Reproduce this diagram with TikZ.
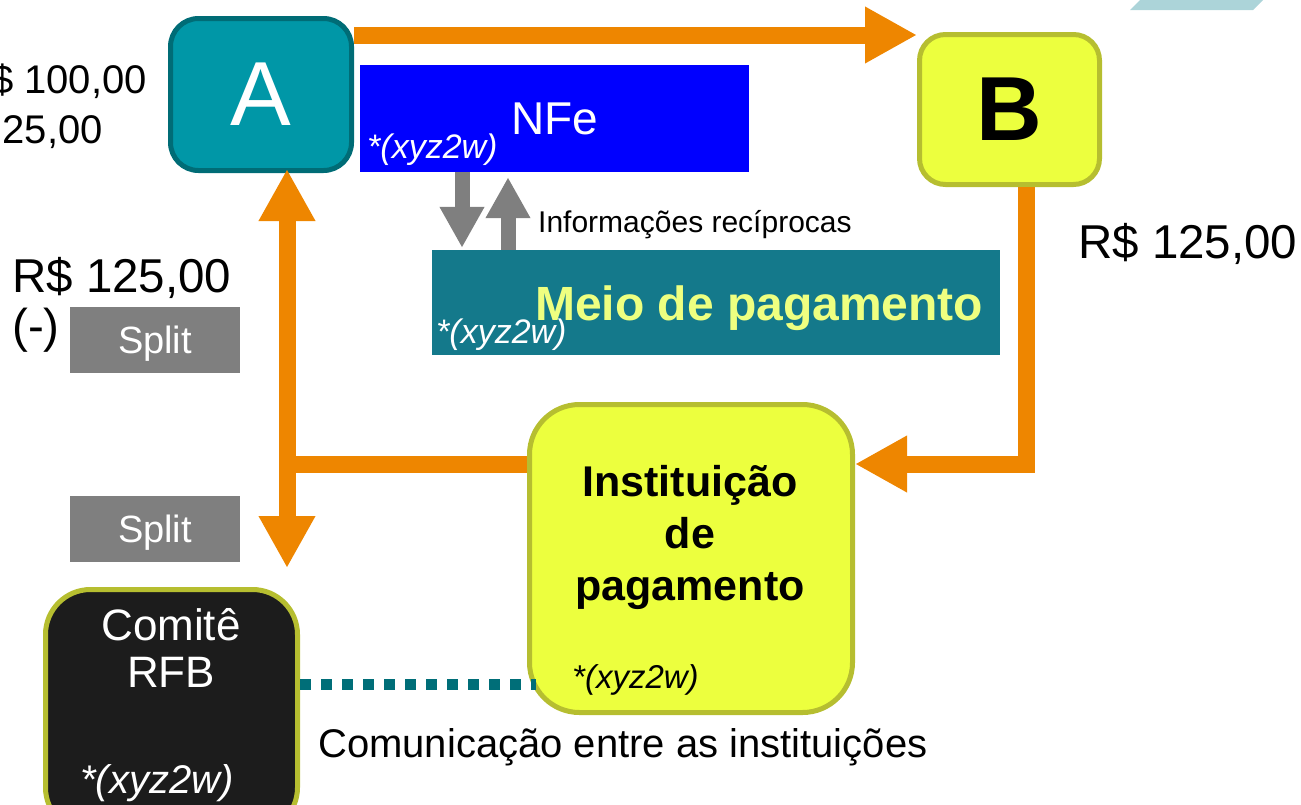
\documentclass[tikz,border=0pt]{standalone}
\usepackage{fontspec}
\setmainfont{Liberation Sans}
\usetikzlibrary{positioning,arrows.meta}
\definecolor{laranja}{RGB}{238,134,0}
\definecolor{tealA}{RGB}{0,151,167}
\definecolor{tealborda}{RGB}{0,108,118}
\definecolor{amarelo}{RGB}{236,255,62}
\definecolor{oliva}{RGB}{182,190,48}
\definecolor{azulnfe}{RGB}{0,0,255}
\definecolor{tealmeio}{RGB}{20,121,139}
\definecolor{textomeio}{RGB}{238,255,128}
\definecolor{cinza}{RGB}{127,127,127}
\definecolor{preto}{RGB}{28,28,28}
\definecolor{pontos}{RGB}{0,110,120}
\definecolor{azulclaro}{RGB}{172,212,217}
\newcommand{\tam}[2]{\fontsize{#1}{#2}\selectfont}

\begin{document}
\begin{tikzpicture}
            [x=1pt, y=-1pt,
            caixa/.style={rounded corners=#1, line width=5pt, inner sep=0pt},
            bloco/.style={inner sep=0pt},
            splitbox/.style={bloco, fill=cinza, text=white, minimum width=170pt,
            minimum height=66pt, text depth=0pt, font=\tam{38}{44}},
            valor/.style={anchor=base west, inner sep=0pt, font=\tam{47.5}{54}},
            codigo/.style={anchor=base west, inner sep=0pt, font=\itshape\tam{34}{40}},
            linhalaranja/.style={draw=laranja, line width=17pt},
            setalaranja/.style={linhalaranja, -{Triangle[length=52pt,width=53pt]}},
            setacinza/.style={draw=cinza, line width=15pt,
            -{Triangle[length=41pt,width=42pt]}},
            pontilhado/.style={draw=pontos, line width=11pt, dash pattern=on 11pt off 10pt}]
            \useasboundingbox (0,0) rectangle (1301,804);
            \clip (0,0) rectangle (1301,804);
            \fill[azulclaro] (1130,10) -- (1253,10) -- (1275,-12) -- (1152,-12) -- cycle;
            % caixas
            \node[caixa=28pt, fill=tealA, draw=tealborda, minimum width=181pt,
                minimum height=152pt, text=white, font=\tam{91}{100}] (A) at (261,94.5) {A};
            \node[caixa=26pt, fill=amarelo, draw=oliva, minimum width=180pt,
                minimum height=150pt, font=\bfseries\tam{91}{100}] (B) at (1009.5,109.5) {B};
            \node[bloco, fill=azulnfe, text=white, minimum width=389pt,
                minimum height=107pt, font=\tam{46}{54}] (nfe) at (554.5,118.5) {NFe};
            \node[bloco, fill=tealmeio, minimum width=568pt, minimum height=105pt] (meio) at (716,302.5) {};
            \node[anchor=base west, inner sep=0pt, text=textomeio,
                font=\bfseries\tam{48}{56}] (meiotxt) at (535,320) {Meio de pagamento};
            \node[caixa=50pt, fill=amarelo, draw=oliva, minimum width=323pt,
                minimum height=308pt] (inst) at (691,558.5) {};
            \node[align=center, inner sep=0pt, font=\bfseries\tam{43}{52}] (insttxt)
                at (690,537) {Instituição\\de\\pagamento};
            \node[caixa=45pt, fill=preto, draw=oliva, minimum width=252pt,
                minimum height=243pt] (comite) at (171.5,711) {};
            \node[align=center, inner sep=0pt, text=white, font=\tam{44}{47}] (comitetxt)
                at (171,648) {Comitê\\RFB};
            \node[splitbox] (split1) at (155,339.5) {Split};
            \node[splitbox] (split2) at (155,529) {Split};
            % textos
            \node[codigo, text=white] (codnfe) at (367,158) {*(xyz2w)};
            \node[codigo, text=white] (codmeio) at (436,343) {*(xyz2w)};
            \node[codigo, font=\itshape\tam{33}{40}] (codinst) at (572,688) {*(xyz2w)};
            \node[codigo, text=white, font=\itshape\tam{40}{46}] (codcomite) at (80,793) {*(xyz2w)};
            \node[anchor=base east, inner sep=0pt, font=\tam{40}{46}] (antes1) at (147,93) {\$ 100,00};
            \node[anchor=base east, inner sep=0pt, font=\tam{40}{46}] (antes2) at (103,143) {25,00};
            \node[valor] (valoresq) at (12,292) {R\$ 125,00};
            \node[valor] (menos) at (12,342) {(-)};
            \node[valor] (valordir) at (1078,258) {R\$ 125,00};
            \node[anchor=base west, inner sep=0pt, font=\tam{30}{36}] (info) at (538,232) {Informações recíprocas};
            \node[anchor=base west, inner sep=0pt, font=\tam{40}{46}] (comunica) at (318,757) {Comunicação entre as instituições};
            % setas
            \coordinate (topo) at (0,35);
            \coordinate (pontasplit) at (287,568);
            \coordinate (juncao) at (287,464);
            \coordinate (canto) at (1026,464);
            \coordinate (linhapontos) at (0,684);
            \draw[setalaranja] (A.east |- topo) -- (B.west |- topo);
            \draw[linhalaranja, {Triangle[length=52pt,width=53pt]}-{Triangle[length=52pt,width=53pt]}]
                ([yshift=4pt]A.south -| pontasplit) -- (pontasplit);
            \draw[linhalaranja] (juncao) -- (juncao -| inst.west);
            \draw[setalaranja] (B.south -| canto) -- (canto) -- (canto -| inst.east);
            \draw[setacinza, shorten >=2pt] ([xshift=-92.5pt]nfe.south) -- ([xshift=-92.5pt]nfe.south |- meio.north);
            \draw[setacinza, shorten >=5pt] ([xshift=-46.5pt]nfe.south |- meio.north) -- ([xshift=-46.5pt]nfe.south);
            \draw[pontilhado, shorten >=-9pt] (comite.east |- linhapontos) -- (inst.west |- linhapontos);
\end{tikzpicture}
\end{document}
